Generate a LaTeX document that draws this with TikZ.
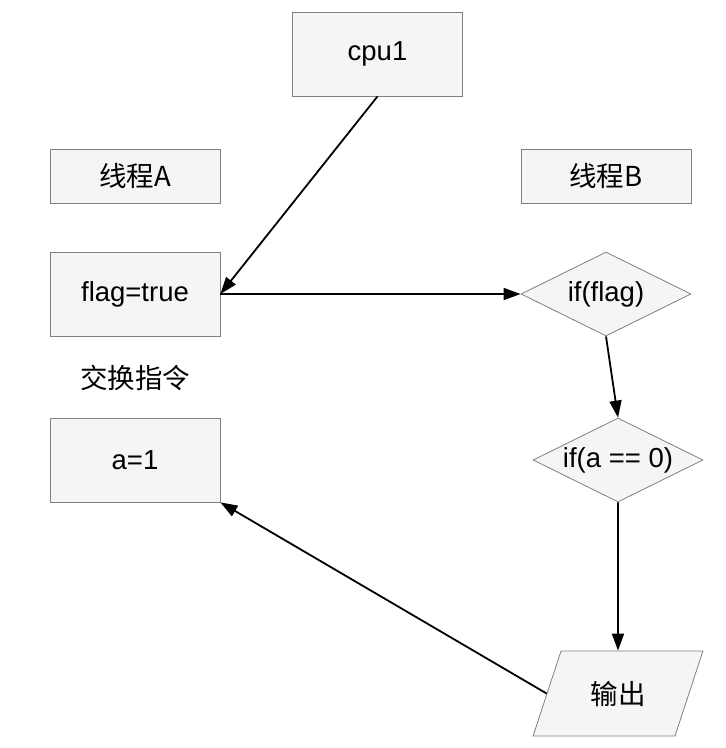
\documentclass[tikz,border=0pt]{standalone}
\usepackage{fontspec}
\setmainfont{Liberation Sans}
\newfontfamily\cjk{Noto Sans CJK SC}
\usetikzlibrary{positioning,shapes.geometric,arrows.meta}
\tikzset{
	box/.style={draw=black!50, fill=gray!8, line width=0.8pt, minimum width=170pt, minimum height=84pt, inner sep=0pt, font=\fontsize{27.5}{32}\selectfont},
	head/.style={box, minimum height=54pt},
	cond/.style={box, diamond, aspect=2},
	io/.style={box, trapezium, trapezium left angle=62, trapezium right angle=118, trapezium stretches=true, minimum height=85pt},
	plain/.style={font=\fontsize{27.5}{32}\selectfont},
	arr/.style={draw=black, line width=1.8pt, -{Triangle[length=17pt,width=12pt]}}
}
\newcommand{\mynode}[5][]
{
	\node [#4] (#1) at (#2, #3) {#5};
}
\newcommand{\flow}[2]
{
	% straight connector with a filled tip
	\path [arr] (#1) -- (#2);
}

\begin{document}
\begin{tikzpicture}[x=1pt, y=-1pt]
		\useasboundingbox (0,0) rectangle (726,748);
		\mynode[cpu]{377.5}{54}{box}{cpu1}
		\mynode[ta]{135}{176}{head}{\cjk 线程A}
		\mynode[tb]{606}{176}{head}{\cjk 线程B}
		\mynode[flag]{135}{294}{box}{flag=true}
		\mynode[swap]{135}{378}{plain}{\cjk 交换指令}
		\mynode[a1]{135}{460}{box}{a=1}
		\mynode[ifflag]{606}{294}{cond}{if(flag)}
		\mynode[ifa]{618}{460}{cond}{if(a == 0)}
		\mynode[out]{618}{693.5}{io}{\cjk 输出}
		
		\flow{cpu.south}{flag.east}
		\flow{flag.east}{ifflag.west}
		\flow{ifflag.south}{ifa.north}
		\flow{ifa.south}{out.north}
		\flow{out.left side}{a1.south east}
		\end{tikzpicture}
\end{document}
